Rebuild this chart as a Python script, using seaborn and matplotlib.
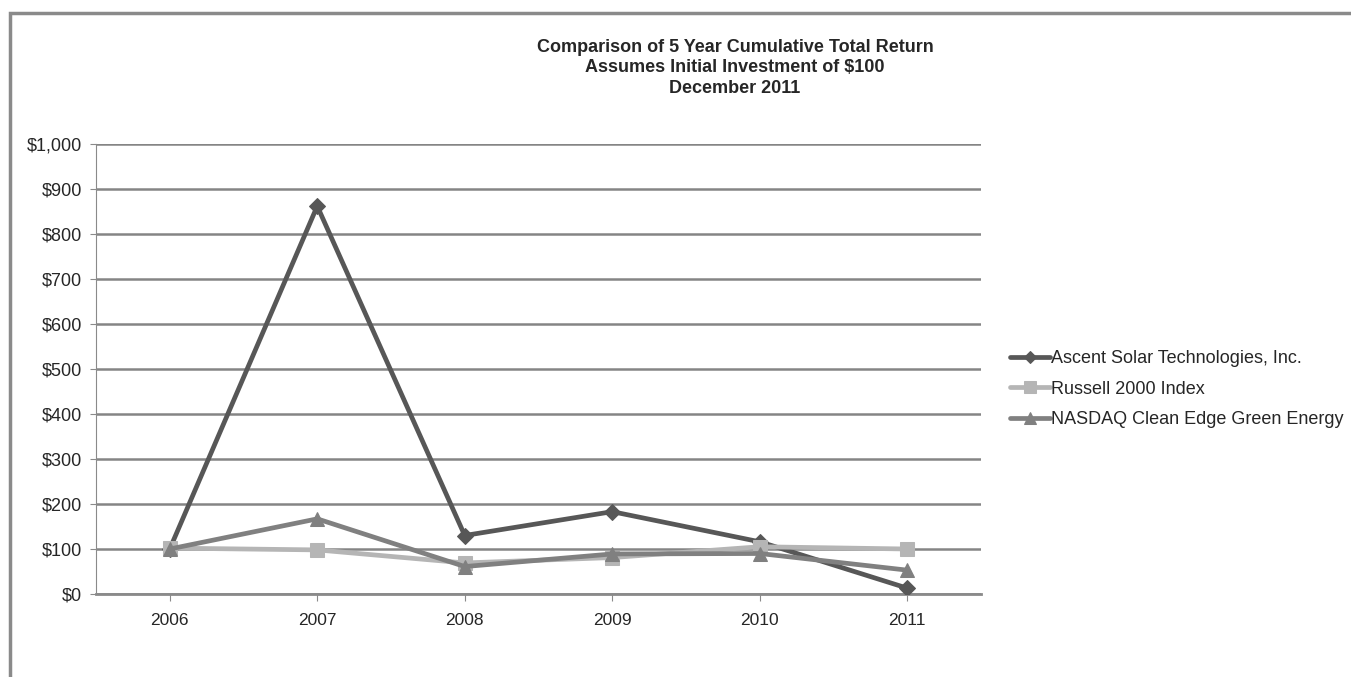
import pandas as pd
import seaborn as sns
import matplotlib.pyplot as plt
from matplotlib.patches import Rectangle
from matplotlib.ticker import FuncFormatter

# Data
years = [2006, 2007, 2008, 2009, 2010, 2011]
ascent = [100, 862, 130, 183, 116, 13]
russell = [102, 98, 69, 81, 105, 100]
nasdaq = [100, 167, 61, 89, 90, 53]
series_names = ['Ascent Solar Technologies, Inc.', 'Russell 2000 Index',
                'NASDAQ Clean Edge Green Energy']

df = pd.DataFrame({
    'year': years * 3,
    'value': ascent + russell + nasdaq,
    'series': [series_names[0]] * 6 + [series_names[1]] * 6 + [series_names[2]] * 6,
})

sns.set_style('white')
plt.rcParams['font.family'] = ['Liberation Sans', 'DejaVu Sans']

fig = plt.figure(figsize=(13.51, 6.77), dpi=100)
# page frame (top and left edge visible)
fig.patches.append(Rectangle((10 / 1351, -0.1), 1.2, 1 - 13 / 677 + 0.1,
                             transform=fig.transFigure, fill=False,
                             edgecolor='#8a8a8a', linewidth=2.5))
ax = fig.add_axes([96 / 1351, 1 - 594 / 677, 885 / 1351, 450 / 677])

palette = {series_names[0]: '#575757', series_names[1]: '#b5b5b5', series_names[2]: '#808080'}
markers = {series_names[0]: 'D', series_names[1]: 's', series_names[2]: '^'}
sizes = {series_names[0]: 8, series_names[1]: 10, series_names[2]: 10}

for name in series_names:
    sub = df[df['series'] == name]
    sns.lineplot(data=sub, x='year', y='value', color=palette[name], marker=markers[name],
                 markersize=sizes[name], markeredgecolor=palette[name], linewidth=3.4,
                 label=name, ax=ax, zorder=3)

ax.set_xlim(2005.5, 2011.5)
ax.set_ylim(0, 1000)
ax.set_xticks(years)
ax.set_yticks(range(0, 1001, 100))
ax.yaxis.set_major_formatter(FuncFormatter(lambda v, p: f'${v:,.0f}'))
ax.grid(axis='y', color='#858585', linewidth=1.8)
ax.set_axisbelow(True)
for s in ['top', 'right']:
    ax.spines[s].set_visible(False)
ax.spines['left'].set_color('#8a8a8a')
ax.spines['bottom'].set_color('#8a8a8a')
ax.spines['bottom'].set_linewidth(2)
ax.tick_params(axis='x', bottom=True, length=5, color='#8a8a8a', labelsize=12.5, pad=9)
ax.tick_params(axis='y', left=True, length=4, color='#8a8a8a', labelsize=13, pad=6)
ax.set_xlabel('')
ax.set_ylabel('')

fig.text(735 / 1351, 1 - 68 / 677,
         'Comparison of 5 Year Cumulative Total Return\nAssumes Initial Investment of $100\nDecember 2011',
         ha='center', va='center', fontsize=13, fontweight='bold', linespacing=1.25)

ax.legend(loc='center left', bbox_to_anchor=((1010 - 96) / 885, (594 - 389) / 450),
          frameon=False, borderaxespad=0, borderpad=0,
          fontsize=13, handlelength=2.2, handletextpad=0.05, labelspacing=0.75,
          markerscale=0.8)

fig.savefig('out.png', dpi=100)
